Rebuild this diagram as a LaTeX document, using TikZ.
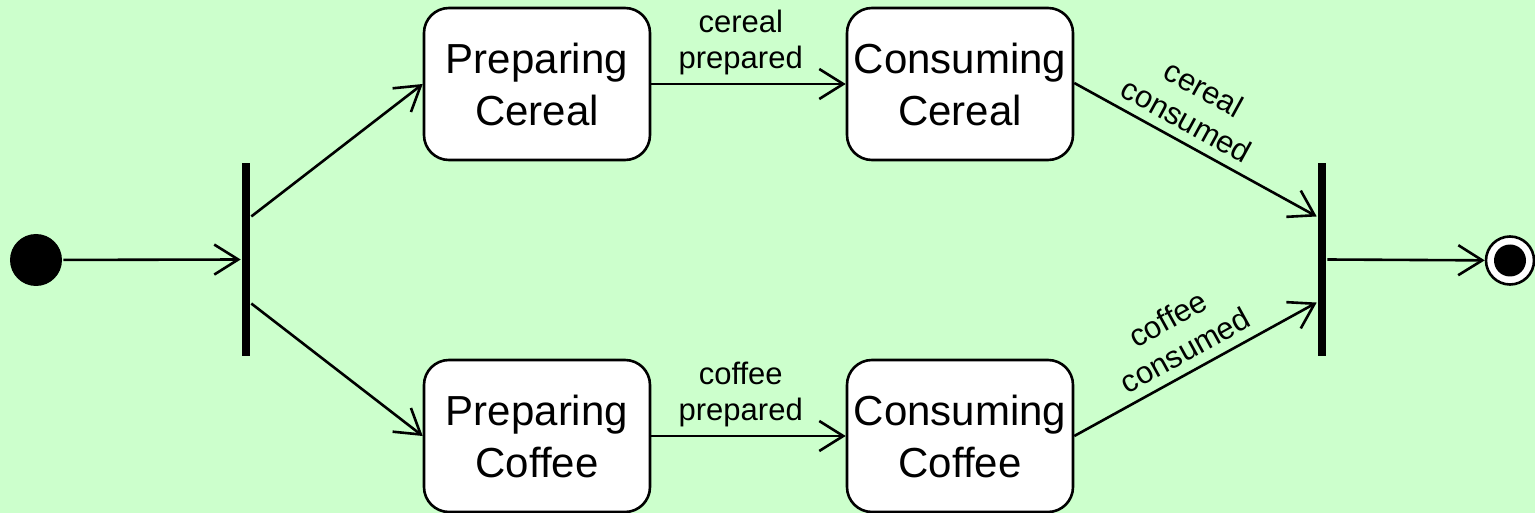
\documentclass[tikz,border=0pt]{standalone}
\usepackage{fontspec}
\setmainfont{Liberation Sans}
\usetikzlibrary{arrows.meta,calc}
\definecolor{bgc}{RGB}{204,255,204}

\begin{document}
\begin{tikzpicture}[x=1pt,y=-1pt,line width=2.6pt,
  state/.style={draw,fill=white,rounded corners=25pt,minimum width=226pt,
    minimum height=152pt,align=center,inner sep=0pt,
    font=\fontsize{42}{52}\selectfont},
  bar/.style={fill=black,minimum width=8pt,minimum height=193pt,inner sep=0pt},
  flow/.style={-{Straight Barb[length=24pt,width=30pt]}},
  lbl/.style={font=\fontsize{31}{36}\selectfont,align=center,inner sep=2pt}]

% canvas
\fill[bgc] (0,0) rectangle (1535,513);
\useasboundingbox (0,0) rectangle (1535,513);

% pseudo-states and bars
\node[circle,fill=black,minimum size=52pt,inner sep=0pt] (init) at (36,260) {};
\node[bar] (fork) at (246,259.5) {};
\node[bar] (join) at (1322,259.5) {};
\node[circle,draw,fill=white,minimum size=48pt,inner sep=0pt] (final) at (1510,260.5) {};
\node[circle,fill=black,minimum size=32pt,inner sep=0pt] at (final) {};

% activity states
\node[state] (pcer) at (537,84)  {Preparing\\Cereal};
\node[state] (pcof) at (537,436) {Preparing\\Coffee};
\node[state] (ccer) at (960,84)  {Consuming\\Cereal};
\node[state] (ccof) at (960,436) {Consuming\\Coffee};

% transitions
\draw[flow] (init) -- (fork.west);
\draw[flow] ($(fork.north east)!0.28!(fork.south east)$) -- (pcer.west);
\draw[flow] ($(fork.north east)!0.725!(fork.south east)$) -- (pcof.west);
\draw[flow] (pcer) -- node[lbl,above=6pt,pos=0.46] {cereal\\prepared} (ccer);
\draw[flow] (pcof) -- node[lbl,above=6pt,pos=0.46] {coffee\\prepared} (ccof);
\draw[flow] ($(ccer.east)+(0,-1)$) -- node[lbl,sloped,above=7pt,pos=0.42] {cereal\\consumed}
  ($(join.north west)!0.28!(join.south west)$);
\draw[flow] (ccof.east) -- node[lbl,sloped,above=7pt,pos=0.5] {coffee\\consumed}
  ($(join.north west)!0.72!(join.south west)$);
\draw[flow] (join.east) -- (final);
\end{tikzpicture}
\end{document}
